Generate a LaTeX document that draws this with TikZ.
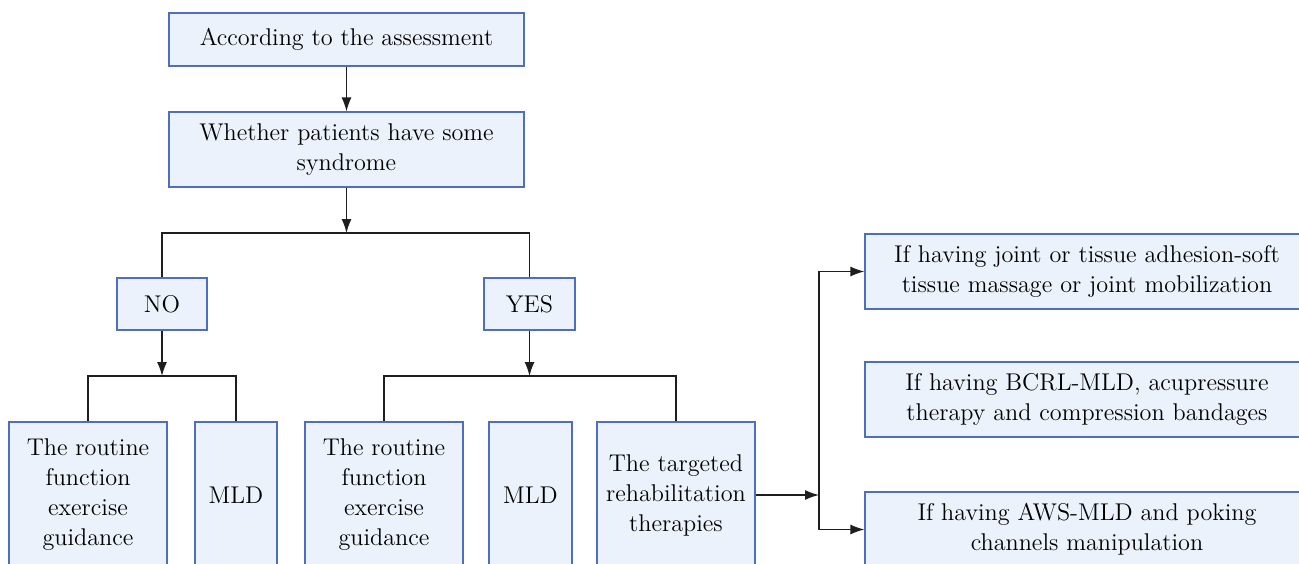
\documentclass[tikz,border=0pt]{standalone}
\usetikzlibrary{arrows.meta}
\definecolor{boxfill}{RGB}{236,242,251}
\definecolor{boxline}{RGB}{80,110,190}
\definecolor{linkgray}{RGB}{30,30,30}
\begin{document}
\begin{tikzpicture}[x=0.5pt,y=0.5pt,yscale=-1,xscale=1,
    box/.style={draw=boxline,fill=boxfill,line width=0.6pt,inner sep=0pt,align=center,
        font=\fontsize{12.1}{15}\selectfont},
    link/.style={draw=linkgray,line width=0.65pt},
    tip/.style={link,-{Latex[length=7pt,width=5pt]}}]
        %set diagram size
        \clip (0,0) rectangle (1299,563);
        \fill[white] (0,0) rectangle (1299,563);

        %Shape: Rectangle [top]
        \node[box,minimum width=355*0.5pt,minimum height=53*0.5pt] (assess) at (346.5,39.5) {According to the assessment};
        %Shape: Rectangle [question]
        \node[box,minimum width=355*0.5pt,minimum height=75*0.5pt] (whether) at (346.5,149.5) {Whether patients have some\\syndrome};
        %Shape: Rectangle [answers]
        \node[box,minimum width=90*0.5pt,minimum height=52*0.5pt] (no) at (162,304) {NO};
        \node[box,minimum width=91*0.5pt,minimum height=52*0.5pt] (yes) at (529.5,304) {YES};
        %Shape: Rectangle [bottom row]
        \node[box,minimum width=158*0.5pt,minimum height=146*0.5pt] (routineA) at (88,495) {The routine\\function\\exercise\\guidance};
        \node[box,minimum width=82*0.5pt,minimum height=146*0.5pt] (mldA) at (236,495) {MLD};
        \node[box,minimum width=158*0.5pt,minimum height=146*0.5pt] (routineB) at (384,495) {The routine\\function\\exercise\\guidance};
        \node[box,minimum width=83*0.5pt,minimum height=146*0.5pt] (mldB) at (530.5,495) {MLD};
        \node[box,minimum width=158*0.5pt,minimum height=146*0.5pt] (target) at (676,495) {The targeted\\rehabilitation\\therapies};
        %Shape: Rectangle [right column]
        \node[box,minimum width=444*0.5pt,minimum height=75*0.5pt] (ifjoint) at (1087,271.5) {If having joint or tissue adhesion-soft\\tissue massage or joint mobilization};
        \node[box,minimum width=444*0.5pt,minimum height=75*0.5pt] (ifbcrl) at (1087,399.5) {If having BCRL-MLD, acupressure\\therapy and compression bandages};
        \node[box,minimum width=444*0.5pt,minimum height=75*0.5pt] (ifaws) at (1087,529.5) {If having AWS-MLD and poking\\channels manipulation};

        %Junctions
        \coordinate (splitTop) at (346.5,233);
        \coordinate (splitNo) at (162,376);
        \coordinate (splitYes) at (529.5,376);
        \coordinate (splitRight) at (819,495);

        %Straight Lines
        \draw[tip] (assess) -- (whether);
        \draw[tip] (whether) -- (splitTop);
        \draw[link] (no.north) |- (splitTop) -| (yes.north);
        \draw[tip] (no) -- (splitNo);
        \draw[link] (routineA.north) |- (splitNo) -| (mldA.north);
        \draw[tip] (yes) -- (splitYes);
        \draw[link] (routineB.north) |- (splitYes) -| (target.north);
        \draw[tip] (target) -- (splitRight);
        \draw[tip] (splitRight) |- (ifjoint.west);
        \draw[tip] (splitRight) |- (ifaws.west);

\end{tikzpicture}
\end{document}
